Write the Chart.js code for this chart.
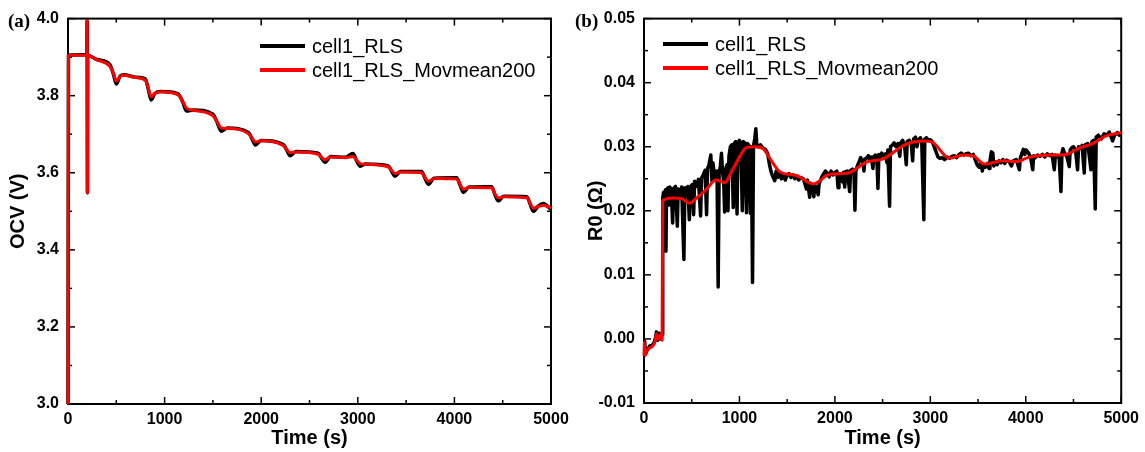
<!DOCTYPE html>
<html>
<head>
<meta charset="utf-8">
<script src="https://cdn.jsdelivr.net/npm/chart.js@4.4.0/dist/chart.umd.min.js"></script>
<style>
  html, body { margin: 0; padding: 0; background: #fff; }
  #wrap { position: relative; width: 1145px; height: 452px; }
  canvas { position: absolute; top: 0; }
</style>
</head>
<body>
<div id="wrap">
  <canvas id="ocvChart" width="575" height="452" style="left:0"></canvas>
  <canvas id="r0Chart" width="570" height="452" style="left:575px"></canvas>
</div>
<script>
// axes
const timeTicks = [0, 1000, 2000, 3000, 4000, 5000];
const ocvTicks = [3.0, 3.2, 3.4, 3.6, 3.8, 4.0];
const r0Ticks = [-0.01, 0.00, 0.01, 0.02, 0.03, 0.04, 0.05];
const seriesNames = ['cell1_RLS', 'cell1_RLS_Movmean200'];

// (a) OCV, [time s, volts]
const ocvRls = [
  [0, 3.0], [5, 3.905], [195, 3.906], [198, 3.995], [201, 3.548], [204, 3.905],
  [300, 3.894], [430, 3.882], [470, 3.856], [500, 3.830], [540, 3.851], [580, 3.854],
  [700, 3.848], [800, 3.844], [830, 3.818], [860, 3.789], [900, 3.806], [960, 3.811],
  [1140, 3.805], [1190, 3.782], [1225, 3.760], [1300, 3.763],
  [1500, 3.752], [1545, 3.730], [1585, 3.708], [1650, 3.716],
  [1870, 3.704], [1905, 3.688], [1940, 3.672], [2000, 3.684],
  [2230, 3.673], [2265, 3.658], [2300, 3.644], [2360, 3.655],
  [2590, 3.651], [2625, 3.638], [2660, 3.627], [2720, 3.642],
  [2870, 3.640], [2950, 3.650], [2990, 3.630], [3025, 3.617], [3080, 3.623],
  [3316, 3.618], [3350, 3.604], [3385, 3.591], [3440, 3.603],
  [3660, 3.603], [3695, 3.586], [3730, 3.570], [3790, 3.586],
  [4024, 3.587], [4058, 3.568], [4093, 3.549], [4150, 3.563],
  [4386, 3.564], [4420, 3.543], [4455, 3.527], [4510, 3.539],
  [4750, 3.538], [4785, 3.518], [4818, 3.500], [4870, 3.514],
  [4920, 3.520], [5000, 3.505]
];
const ocvMov = [
  [0, 3.0], [5, 3.905], [195, 3.905], [198, 3.995], [201, 3.548], [204, 3.904],
  [300, 3.893], [430, 3.877], [470, 3.858], [500, 3.838], [540, 3.850], [580, 3.853],
  [700, 3.847], [800, 3.840], [830, 3.820], [860, 3.797], [900, 3.806], [960, 3.810],
  [1140, 3.802], [1190, 3.784], [1225, 3.768], [1300, 3.762],
  [1500, 3.748], [1545, 3.732], [1585, 3.716], [1650, 3.715],
  [1870, 3.701], [1905, 3.690], [1940, 3.680], [2000, 3.683],
  [2230, 3.670], [2265, 3.660], [2300, 3.652], [2360, 3.654],
  [2590, 3.648], [2625, 3.640], [2660, 3.634], [2720, 3.641],
  [2870, 3.639], [2950, 3.642], [2990, 3.632], [3025, 3.624], [3080, 3.622],
  [3316, 3.615], [3350, 3.606], [3385, 3.598], [3440, 3.602],
  [3660, 3.600], [3695, 3.588], [3730, 3.578], [3790, 3.585],
  [4024, 3.584], [4058, 3.570], [4093, 3.557], [4150, 3.562],
  [4386, 3.561], [4420, 3.545], [4455, 3.535], [4510, 3.538],
  [4750, 3.535], [4785, 3.520], [4818, 3.508], [4870, 3.513],
  [4920, 3.515], [5000, 3.509]
];

// (b) R0, [time s, ohm]
const r0Rls = [
  [0, -0.0025], [8, -0.0004], [15, -0.0024], [35, -0.0017], [60, -0.0011], [85, -0.0010],
  [105, -0.0006], [120, 0.0001], [130, 0.0011], [145, -0.0002], [160, 0.0009], [175, 0.0000], [190, 0.0007],
  [196, 0.0220], [205, 0.0229], [215, 0.0214], [225, 0.0233], [230, 0.0137], [236, 0.0229],
  [250, 0.0236], [260, 0.0209], [270, 0.0237], [285, 0.0233], [300, 0.0181], [310, 0.0235],
  [330, 0.0238], [349, 0.0176], [358, 0.0234], [375, 0.0221], [395, 0.0237], [418, 0.0124],
  [428, 0.0236], [445, 0.0224], [460, 0.0238], [475, 0.0186], [485, 0.0237], [505, 0.0241],
  [520, 0.0194], [530, 0.0246], [550, 0.0238], [570, 0.0249], [593, 0.0192], [603, 0.0251],
  [620, 0.0256], [640, 0.0263], [656, 0.0194], [666, 0.0266], [680, 0.0271], [700, 0.0287],
  [712, 0.0246], [722, 0.0275], [735, 0.0260], [750, 0.0248], [765, 0.0262], [777, 0.0081],
  [787, 0.0258], [800, 0.0270], [812, 0.0290], [822, 0.0262], [835, 0.0245], [845, 0.0198],
  [855, 0.0265], [870, 0.0272], [880, 0.0200], [890, 0.0285], [905, 0.0300], [920, 0.0303],
  [935, 0.0205], [945, 0.0305], [960, 0.0308], [975, 0.0195], [985, 0.0307], [1000, 0.0310],
  [1015, 0.0303], [1030, 0.0200], [1040, 0.0308], [1055, 0.0306], [1074, 0.0197], [1084, 0.0305],
  [1100, 0.0302], [1115, 0.0196], [1125, 0.0300], [1137, 0.0088], [1147, 0.0301], [1160, 0.0312],
  [1172, 0.0328], [1182, 0.0302], [1200, 0.0300], [1220, 0.0303], [1245, 0.0298], [1270, 0.0296],
  [1295, 0.0290], [1315, 0.0272], [1330, 0.0262], [1345, 0.0255], [1370, 0.0247], [1385, 0.0262],
  [1400, 0.0252], [1420, 0.0258], [1440, 0.0250], [1460, 0.0257], [1480, 0.0248], [1500, 0.0256],
  [1520, 0.0258], [1540, 0.0252], [1560, 0.0256], [1580, 0.0250], [1600, 0.0254], [1620, 0.0248],
  [1645, 0.0252], [1670, 0.0250], [1702, 0.0234], [1712, 0.0248], [1736, 0.0221], [1746, 0.0243],
  [1765, 0.0238], [1780, 0.0222], [1790, 0.0240], [1810, 0.0236], [1825, 0.0225], [1835, 0.0242],
  [1850, 0.0248], [1870, 0.0255], [1885, 0.0258], [1900, 0.0262], [1920, 0.0259], [1940, 0.0253],
  [1960, 0.0262], [1980, 0.0256], [2000, 0.0260], [2020, 0.0262], [2033, 0.0236], [2043, 0.0258],
  [2060, 0.0258], [2080, 0.0245], [2090, 0.0260], [2103, 0.0237], [2113, 0.0261], [2130, 0.0262],
  [2155, 0.0230], [2165, 0.0263], [2185, 0.0265], [2200, 0.0262], [2210, 0.0201], [2220, 0.0262],
  [2235, 0.0270], [2250, 0.0275], [2270, 0.0283], [2290, 0.0278], [2305, 0.0262], [2315, 0.0281],
  [2330, 0.0282], [2350, 0.0286], [2365, 0.0280], [2380, 0.0284], [2399, 0.0266], [2410, 0.0285],
  [2425, 0.0287], [2440, 0.0285], [2451, 0.0235], [2461, 0.0288], [2475, 0.0282], [2490, 0.0290],
  [2510, 0.0286], [2530, 0.0289], [2545, 0.0275], [2555, 0.0295], [2573, 0.0207], [2583, 0.0300],
  [2600, 0.0302], [2620, 0.0306], [2640, 0.0300], [2660, 0.0305], [2680, 0.0285], [2690, 0.0306],
  [2710, 0.0310], [2730, 0.0302], [2748, 0.0272], [2758, 0.0308], [2780, 0.0310], [2800, 0.0305],
  [2815, 0.0278], [2825, 0.0312], [2845, 0.0315], [2860, 0.0300], [2875, 0.0310], [2895, 0.0314],
  [2910, 0.0309], [2932, 0.0186], [2942, 0.0312], [2960, 0.0314], [2980, 0.0310], [3000, 0.0311],
  [3020, 0.0308], [3040, 0.0300], [3060, 0.0292], [3080, 0.0284], [3100, 0.0282], [3125, 0.0283],
  [3150, 0.0280], [3175, 0.0284], [3200, 0.0282], [3225, 0.0285], [3250, 0.0286], [3275, 0.0283],
  [3300, 0.0288], [3325, 0.0290], [3350, 0.0287], [3375, 0.0289], [3400, 0.0290], [3425, 0.0286],
  [3450, 0.0288], [3470, 0.0280], [3490, 0.0272], [3510, 0.0268], [3530, 0.0275], [3545, 0.0262],
  [3555, 0.0272], [3575, 0.0268], [3600, 0.0274], [3615, 0.0266], [3625, 0.0278], [3640, 0.0292],
  [3655, 0.0290], [3665, 0.0270], [3685, 0.0276], [3700, 0.0272], [3720, 0.0278], [3740, 0.0275],
  [3760, 0.0280], [3780, 0.0274], [3800, 0.0279], [3825, 0.0277], [3850, 0.0270], [3870, 0.0278],
  [3900, 0.0280], [3933, 0.0264], [3943, 0.0282], [3960, 0.0290], [3975, 0.0296], [3990, 0.0288],
  [4003, 0.0295], [4030, 0.0290], [4050, 0.0284], [4073, 0.0264], [4083, 0.0286], [4100, 0.0283],
  [4125, 0.0287], [4150, 0.0285], [4175, 0.0288], [4200, 0.0284], [4225, 0.0289], [4250, 0.0286],
  [4275, 0.0288], [4299, 0.0264], [4310, 0.0287], [4330, 0.0285], [4350, 0.0282], [4369, 0.0230],
  [4379, 0.0290], [4390, 0.0297], [4405, 0.0290], [4430, 0.0285], [4456, 0.0269], [4466, 0.0295],
  [4480, 0.0298], [4500, 0.0300], [4520, 0.0296], [4543, 0.0264], [4553, 0.0300], [4570, 0.0298],
  [4590, 0.0302], [4613, 0.0259], [4623, 0.0303], [4650, 0.0305], [4683, 0.0264], [4693, 0.0308],
  [4710, 0.0310], [4728, 0.0203], [4738, 0.0315], [4760, 0.0318], [4790, 0.0312], [4820, 0.0320],
  [4850, 0.0318], [4875, 0.0323], [4895, 0.0315], [4910, 0.0309], [4930, 0.0318], [4960, 0.0322],
  [4980, 0.0318], [5000, 0.0320]
];
const r0Mov = [
  [0, -0.0027], [5, -0.0005], [12, -0.0025], [30, -0.0018], [60, -0.0014], [90, -0.0011],
  [115, -0.0004], [130, 0.0008], [150, 0.0000], [170, 0.0006], [190, -0.0002],
  [196, 0.0216], [307, 0.0220], [394, 0.0219], [474, 0.0212], [551, 0.0220], [656, 0.0234],
  [753, 0.0248], [847, 0.0244], [900, 0.0256], [1004, 0.0285], [1074, 0.0299], [1160, 0.0300],
  [1248, 0.0297], [1318, 0.0282], [1423, 0.0261], [1597, 0.0255], [1771, 0.0242], [1946, 0.0257],
  [2137, 0.0259], [2329, 0.0276], [2503, 0.0281], [2748, 0.0304], [2922, 0.0309], [3009, 0.0308],
  [3201, 0.0282], [3340, 0.0287], [3445, 0.0286], [3567, 0.0273], [3759, 0.0278], [3915, 0.0277],
  [4020, 0.0283], [4247, 0.0287], [4421, 0.0288], [4561, 0.0298], [4700, 0.0305], [4840, 0.0317],
  [5000, 0.0322]
];

const sans = 'Liberation Sans, Arial, sans-serif';
const serif = 'Liberation Serif, Times New Roman, serif';

function toPoints(list) {
  return list.map(p => ({ x: p[0], y: p[1] }));
}

// frame box, inward ticks on all sides, legend and panel letter
const frame = {
  id: 'frame',
  beforeDatasetsDraw(chart) {
    const { ctx, chartArea: a, scales: { x, y } } = chart;
    const seg = (x1, y1, x2, y2) => { ctx.beginPath(); ctx.moveTo(x1, y1); ctx.lineTo(x2, y2); ctx.stroke(); };
    const tickX = (v, len) => {
      const p = x.getPixelForValue(v);
      seg(p, a.bottom, p, a.bottom - len);
      seg(p, a.top, p, a.top + len);
    };
    const tickY = (v, len) => {
      const p = y.getPixelForValue(v);
      seg(a.left, p, a.left + len, p);
      seg(a.right, p, a.right - len, p);
    };
    ctx.save();
    ctx.strokeStyle = '#000';
    ctx.lineWidth = 1.5;
    const xs = x.ticks.map(t => t.value);
    const ys = y.ticks.map(t => t.value);
    xs.forEach((v, i) => { tickX(v, 7); if (i < xs.length - 1) tickX((v + xs[i + 1]) / 2, 4); });
    ys.forEach((v, i) => { tickY(v, 7); if (i < ys.length - 1) tickY((v + ys[i + 1]) / 2, 4); });
    ctx.lineWidth = 2;
    ctx.strokeRect(a.left, a.top, a.right - a.left, a.bottom - a.top);
    ctx.restore();
  },
  afterDraw(chart, args, opts) {
    const ctx = chart.ctx;
    ctx.save();
    // black entry on top, red below
    [1, 0].forEach((di, row) => {
      const ds = chart.data.datasets[di];
      const ly = opts.legendY + row * opts.legendGap;
      ctx.strokeStyle = ds.borderColor;
      ctx.lineWidth = 4;
      ctx.beginPath();
      ctx.moveTo(opts.legendX, ly);
      ctx.lineTo(opts.legendX + 45, ly);
      ctx.stroke();
      ctx.fillStyle = '#000';
      ctx.font = '20px ' + sans;
      ctx.textBaseline = 'middle';
      ctx.fillText(ds.label, opts.legendX + 52, ly + 1);
    });
    ctx.font = 'bold 19px ' + serif;
    ctx.textBaseline = 'middle';
    ctx.fillStyle = '#000';
    ctx.fillText(opts.letter, opts.letterX, 22);
    ctx.restore();
  }
};

function makeChart(id, cfg) {
  const tickFont = { family: sans, size: 16, weight: 'bold' };
  const titleFont = { family: sans, size: 20, weight: 'bold' };
  return new Chart(document.getElementById(id), {
    type: 'line',
    data: {
      datasets: [
        { label: seriesNames[1], data: toPoints(cfg.mov), borderColor: '#ff0000', borderWidth: 3,
          borderJoinStyle: 'round', pointRadius: 0, order: 0, clip: false,
          cubicInterpolationMode: 'monotone' },
        { label: seriesNames[0], data: toPoints(cfg.rls), borderColor: '#000000', borderWidth: cfg.blackWidth,
          borderJoinStyle: 'round', pointRadius: 0, order: 1, clip: false,
          cubicInterpolationMode: cfg.smoothBlack ? 'monotone' : 'default' }
      ]
    },
    options: {
      responsive: false,
      animation: false,
      layout: { padding: { top: cfg.top, right: cfg.right, left: 0, bottom: 0 } },
      plugins: {
        legend: { display: false },
        tooltip: { enabled: false },
        frame: cfg.frame
      },
      scales: {
        x: {
          type: 'linear', min: 0, max: 5000,
          afterBuildTicks: s => { s.ticks = timeTicks.map(v => ({ value: v })); },
          afterFit: s => { s.height = cfg.xHeight; },
          grid: { display: false, drawTicks: false },
          border: { display: false },
          ticks: { padding: 6, color: '#000', font: tickFont, maxRotation: 0, callback: v => String(v) },
          title: { display: true, text: 'Time (s)', color: '#000', font: titleFont, padding: { top: 0, bottom: 2 } }
        },
        y: {
          type: 'linear', min: cfg.yTicks[0], max: cfg.yTicks[cfg.yTicks.length - 1],
          afterBuildTicks: s => { s.ticks = cfg.yTicks.map(v => ({ value: v })); },
          afterFit: s => { s.width = cfg.yWidth; },
          grid: { display: false, drawTicks: false },
          border: { display: false },
          ticks: { padding: 9, color: '#000', font: tickFont, callback: v => v.toFixed(cfg.digits) },
          title: { display: true, text: cfg.yTitle, color: '#000', font: titleFont, padding: { top: cfg.yTitlePad, bottom: 0 } }
        }
      }
    },
    plugins: [frame]
  });
}

makeChart('ocvChart', {
  rls: ocvRls, mov: ocvMov, smoothBlack: true, blackWidth: 3.5,
  yTicks: ocvTicks, digits: 1, yTitle: 'OCV (V)', yTitlePad: 6,
  top: 15, right: 24, xHeight: 48, yWidth: 68,
  frame: { legendX: 260, legendY: 46, legendGap: 24, letter: '(a)', letterX: 8 }
});

makeChart('r0Chart', {
  rls: r0Rls, mov: r0Mov, smoothBlack: false, blackWidth: 3.5,
  yTicks: r0Ticks, digits: 2, yTitle: 'R0 (Ω)', yTitlePad: 9,
  top: 16, right: 23, xHeight: 49, yWidth: 69,
  frame: { legendX: 88, legendY: 44, legendGap: 24, letter: '(b)', letterX: 0 }
});
</script>
</body>
</html>
